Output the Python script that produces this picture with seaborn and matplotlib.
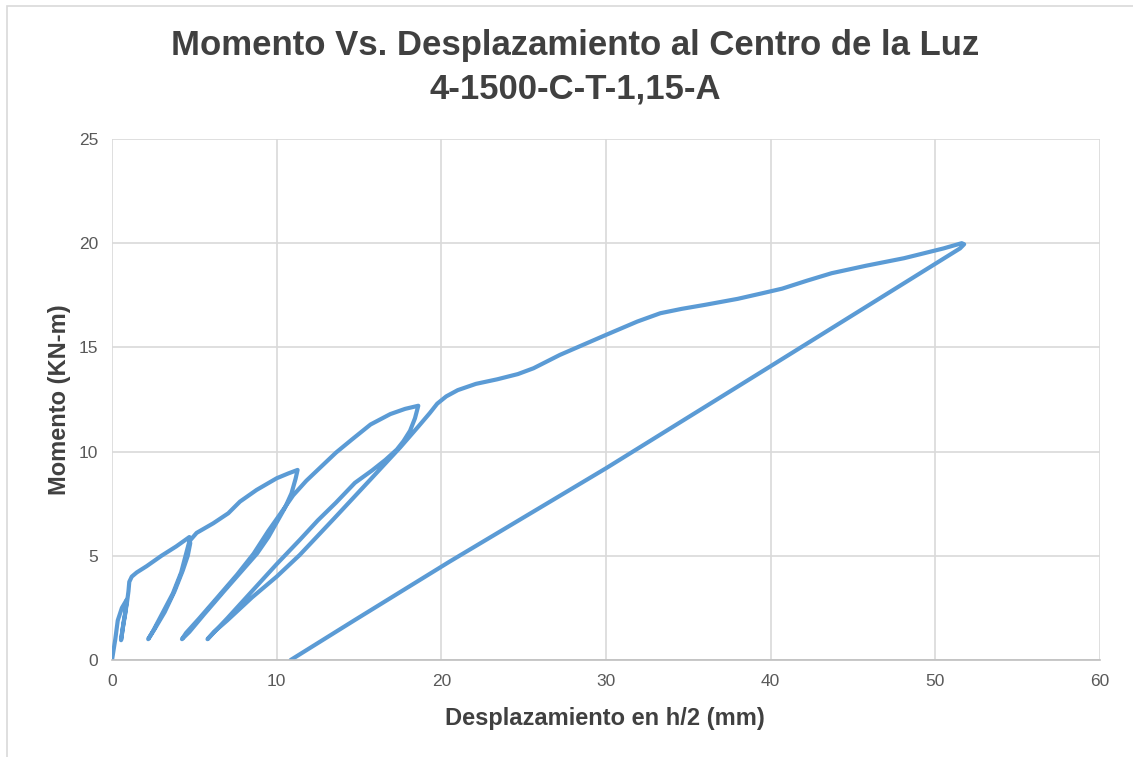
#Moment vs mid-span displacement, cyclic test 4-1500-C-T-1,15-A
import matplotlib.pyplot as plt
import matplotlib.patches as patches
import numpy as np
import pandas as pd
import seaborn as sns

# branches of the hysteresis path (mm, KN-m)
disp_cycle0 = [0.0, 0.2, 0.35, 0.6, 0.9, 0.8, 0.65, 0.55, 0.7, 0.9, 1.0, 1.05, 1.2, 1.5, 2.1, 3.0, 3.9, 4.7]
mom_cycle0 = [0.0, 1.0, 1.9, 2.5, 2.9, 2.2, 1.5, 0.95, 1.8, 2.7, 3.3, 3.75, 4.0, 4.2, 4.5, 5.0, 5.45, 5.9]

disp_cycle1 = [4.75, 4.6, 4.3, 3.8, 3.2, 2.6, 2.2, 2.5, 3.1, 3.7, 4.2, 4.5, 4.7, 5.14, 6.15, 7.06, 7.77, 8.78, 10.0, 10.7, 11.27]
mom_cycle1 = [5.6, 5.0, 4.3, 3.3, 2.3, 1.5, 1.0, 1.4, 2.3, 3.2, 4.2, 5.1, 5.7, 6.1, 6.56, 7.04, 7.6, 8.16, 8.72, 8.95, 9.12]

disp_cycle2 = [11.15, 10.9, 10.5, 10.0, 9.5, 8.8, 7.8, 6.8, 5.6, 4.7, 4.25, 4.5, 5.3, 6.4, 7.6, 8.6, 9.5, 10.3, 11.0,
               11.8, 12.6, 13.6, 14.6, 15.7, 16.9, 17.8, 18.6]
mom_cycle2 = [8.7, 8.0, 7.3, 6.6, 5.9, 5.1, 4.2, 3.3, 2.2, 1.35, 1.0, 1.3, 2.0, 3.0, 4.1, 5.1, 6.2, 7.1, 7.9,
              8.6, 9.2, 9.95, 10.6, 11.3, 11.8, 12.05, 12.2]

disp_cycle3 = [18.4, 18.1, 17.7, 17.3, 16.6, 15.8, 14.75, 13.6, 12.5, 11.4, 10.0, 8.5, 7.0, 6.1, 5.8,
               6.2, 7.0, 8.5, 10.0, 11.4, 13.5, 15.67, 17.5, 18.6, 19.3]
mom_cycle3 = [11.6, 11.0, 10.5, 10.1, 9.6, 9.1, 8.5, 7.55, 6.7, 5.76, 4.6, 3.3, 2.0, 1.25, 1.0,
              1.35, 1.9, 3.0, 4.0, 5.04, 6.8, 8.64, 10.2, 11.2, 11.85]

disp_envelope = [19.75, 20.3, 21.0, 22.1, 23.4, 24.65, 25.6, 27.2, 30.0, 31.9, 33.3, 34.6, 36.0, 38.0, 39.5, 40.7, 42.2,
                 43.7, 45.8, 48.1, 50.5, 51.6]
mom_envelope = [12.3, 12.65, 12.95, 13.25, 13.47, 13.72, 14.0, 14.64, 15.6, 16.24, 16.64, 16.85, 17.04, 17.33, 17.6, 17.82, 18.2,
                18.56, 18.92, 19.28, 19.75, 20.0]

disp_unload = [51.75, 51.5, 40.0, 30.0, 20.5, 14.75, 10.85]
mom_unload = [19.95, 19.75, 14.1, 9.2, 4.72, 1.92, 0.0]

disp = disp_cycle0 + disp_cycle1 + disp_cycle2 + disp_cycle3 + disp_envelope + disp_unload
mom = mom_cycle0 + mom_cycle1 + mom_cycle2 + mom_cycle3 + mom_envelope + mom_unload
df = pd.DataFrame({"disp": disp, "mom": mom, "order": np.arange(len(disp))})

sns.set_theme(style="whitegrid")
plt.rcParams['font.family'] = ['Liberation Sans', 'DejaVu Sans']

fig = plt.figure(figsize=(11.33, 7.57), dpi=100)
ax = fig.add_axes([112/1133, 1 - 660/757, (1100-112)/1133, (660-139)/757])

sns.lineplot(data=df, x="disp", y="mom", sort=False, estimator=None, ax=ax,
             color="#5B9BD5", linewidth=3.0, solid_joinstyle="round", solid_capstyle="round")

ax.set_xlim(0, 60)
ax.set_ylim(0, 25)
ax.set_xticks(range(0, 61, 10))
ax.set_yticks(range(0, 26, 5))
ax.set_facecolor("white")
ax.grid(True, color="#d9d9d9", linewidth=1.2)
for side in ["top", "right", "left"]:
    ax.spines[side].set_visible(False)
ax.spines["bottom"].set_visible(True)
ax.spines["bottom"].set_color("#bfbfbf")
ax.spines["bottom"].set_linewidth(1.2)
ax.tick_params(axis="both", length=0, labelsize=12.5, labelcolor="#595959", pad=10)

ax.set_xlabel("Desplazamiento en h/2 (mm)", fontsize=17, fontweight="bold", color="#404040")
ax.set_ylabel("Momento (KN-m)", fontsize=17, fontweight="bold", color="#404040")
ax.xaxis.set_label_coords((605-112)/988, -(707-660)/521)
ax.yaxis.set_label_coords(-(112-71)/988, 0.5)

fig.text(575/1133, 1 - 45/757, "Momento Vs. Desplazamiento al Centro de la Luz",
         ha="center", va="center", fontsize=25, fontweight="bold", color="#404040")
fig.text(575/1133, 1 - 89/757, "4-1500-C-T-1,15-A",
         ha="center", va="center", fontsize=25, fontweight="bold", color="#404040")

# chart area border
fig.add_artist(patches.Rectangle((7/1133, -0.05), 1.2, 1 - 6/757 + 0.05, transform=fig.transFigure,
                                 fill=False, edgecolor="#d9d9d9", linewidth=1.2))

fig.savefig("out.png", dpi=100)
